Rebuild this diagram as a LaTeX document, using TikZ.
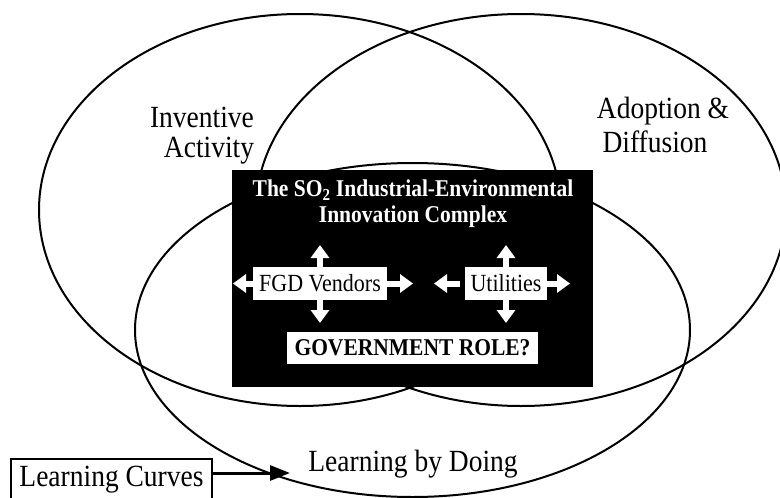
\documentclass[tikz,border=0pt]{standalone}
\usepackage{fontspec}
\setmainfont{Liberation Serif}
\usepackage{graphicx}
\usetikzlibrary{arrows.meta}
\newcommand\vst[1]{\scalebox{1}[1.12]{#1}}
\begin{document}
\begin{tikzpicture}[x=1pt,y=-1pt,
  venn/.style={draw=black, line width=2pt},
  biglabel/.style={font=\fontsize{27.5}{33}\selectfont, inner sep=0pt, anchor=base},
  whitebox/.style={fill=white, draw=none, inner sep=0pt, font=\fontsize{22}{26}\selectfont},
  warrow/.style={draw=white, line width=6pt, -{Triangle[width=18pt,length=13pt]}},
  blackarrow/.style={draw=black, line width=3pt, -{Triangle[width=15pt,length=20pt]}}]
\useasboundingbox (0,0) rectangle (780,498);
\clip (0,0) rectangle (780,498);
% ellipses
\draw[venn] (300,210) ellipse [x radius=261pt, y radius=196pt];
\draw[venn] (521,210) ellipse [x radius=265pt, y radius=196pt];
\draw[venn] (412.5,330) ellipse [x radius=277.5pt, y radius=167pt];
% labels
\node[biglabel] (inv) at (202,127) {\vst{Inventive}};
\node[biglabel] (act) at (209,157) {\vst{Activity}};
\node[biglabel] (ado) at (663,118) {\vst{Adoption \&}};
\node[biglabel] (dif) at (655,152) {\vst{Diffusion}};
\node[biglabel] (lbd) at (413,471) {\vst{Learning by Doing}};
% black complex box
\node[fill=black, minimum width=361pt, minimum height=217pt, inner sep=0pt] (complex) at (412.5,278.5) {};
\node[text=white, align=center, font=\bfseries\fontsize{21.5}{26}\selectfont, inner sep=0pt] (title) at (413,204) {\vst{The SO\textsubscript{2} Industrial-Environmental}\\\vst{Innovation Complex}};
\node[whitebox, minimum width=134pt, minimum height=33pt] (fgd) at (320,283.5) {\vst{FGD Vendors}};
\node[whitebox, minimum width=82pt, minimum height=33pt] (util) at (506,283.5) {\vst{Utilities}};
\node[whitebox, minimum width=251pt, minimum height=32pt, font=\bfseries\fontsize{21.5}{26}\selectfont] (gov) at (412.5,348) {\vst{GOVERNMENT ROLE?}};
% white arrows
\coordinate (fu) at (320,245);
\coordinate (fd) at (320,323);
\coordinate (fl) at (233,283.5);
\coordinate (fr) at (413,283.5);
\coordinate (uu) at (506,245);
\coordinate (ud) at (506,323);
\coordinate (ulb) at (460,283.5);
\coordinate (ul) at (434,283.5);
\coordinate (ur) at (570,283.5);
\draw[warrow] (fgd.north) -- (fu);
\draw[warrow] (fgd.south) -- (fd);
\draw[warrow] (fgd.west) -- (fl);
\draw[warrow] (fgd.east) -- (fr);
\draw[warrow] (util.north) -- (uu);
\draw[warrow] (util.south) -- (ud);
\draw[warrow] (ulb) -- (ul);
\draw[warrow] (util.east) -- (ur);
% learning curves
\node[draw=black, line width=2pt, fill=white, minimum width=201pt, minimum height=42pt, inner sep=0pt, font=\fontsize{27.5}{33}\selectfont] (lc) at (111.5,480) {\vst{Learning Curves}};
\coordinate (lct) at (290,473);
\draw[blackarrow] (lc.east |- lct) -- (lct);
\end{tikzpicture}
\end{document}
